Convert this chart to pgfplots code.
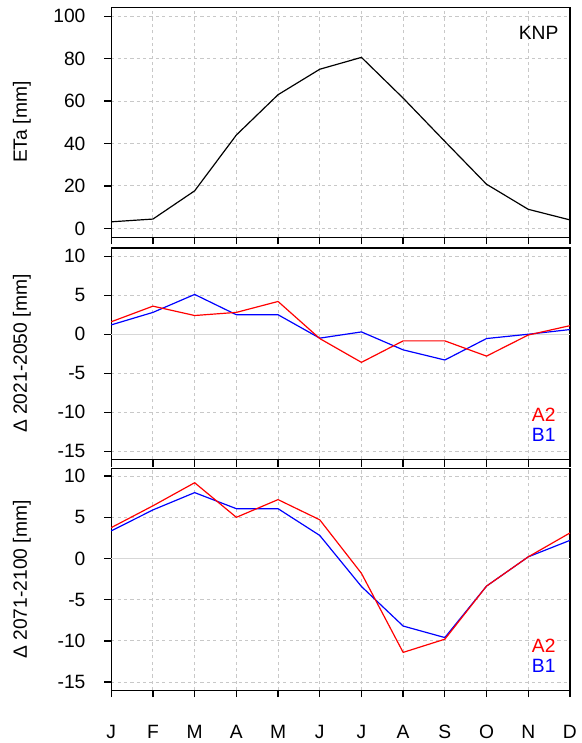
\documentclass[border=0pt]{standalone}
\usepackage{pgfplots}
\pgfplotsset{compat=1.18}
\usepackage{fontspec}
\setmainfont{Liberation Sans}
\definecolor{gridc}{RGB}{200,200,200}
\definecolor{zeroc}{RGB}{215,215,215}
\pgfplotsset{
  panel/.style={
    scale only axis,
    width=345.5pt,
    xmin=1, xmax=12,
    xtick={1,...,12},
    xticklabels={},
    xtick pos=bottom,
    ytick pos=left,
    tick align=outside,
    major tick length=5.25pt,
    axis line style={line width=1.1pt},
    every tick/.style={black, line width=1pt},
    grid=major,
    major grid style={gridc, line width=0.75pt, dash pattern=on 2.4pt off 2.4pt},
    /pgf/number format/assume math mode=true,
    yticklabel style={font=\fontsize{14.5}{16}\selectfont, anchor=east, inner sep=0pt, xshift=-14pt},
    clip=false,
  }
}
\begin{document}
\begin{tikzpicture}
\path (0,0) rectangle (434.25pt,557.25pt);
% top panel
\begin{axis}[panel, at={(83.8pt,378.5pt)}, anchor=south west, height=173.25pt,
  ymin=-4.2, ymax=104.2, ytick={0,20,40,60,80,100}]
\addplot[black, line width=0.9pt] coordinates {
(1,3.1) (2,4.4) (3,17.7) (4,44) (5,63) (6,75) (7,80.6) (8,61.4) (9,41) (10,20.8) (11,9) (12,4)};
\node[anchor=east, inner sep=0pt, font=\fontsize{14.5}{16}\selectfont, xshift=-8.5pt, yshift=-19.3pt] at (rel axis cs:1,1) {KNP};
\end{axis}
% middle panel
\begin{axis}[panel, at={(83.8pt,211pt)}, anchor=south west, height=159.5pt,
  ymin=-16.07, ymax=11.06, ytick={-15,-10,-5,0,5,10}]
\addplot[zeroc, line width=1.1pt] coordinates {(1,0) (12,0)};
\addplot[blue, line width=0.9pt] coordinates {
(1,1.2) (2,2.8) (3,5.1) (4,2.5) (5,2.5) (6,-0.5) (7,0.3) (8,-2.0) (9,-3.3) (10,-0.55) (11,0.0) (12,0.6)};
\addplot[red, line width=0.9pt] coordinates {
(1,1.6) (2,3.6) (3,2.4) (4,2.8) (5,4.2) (6,-0.55) (7,-3.6) (8,-0.85) (9,-0.85) (10,-2.8) (11,-0.1) (12,1.1)};
\node[anchor=east, inner sep=0pt, red, font=\fontsize{14.5}{16}\selectfont, xshift=-10.7pt, yshift=33.5pt] at (rel axis cs:1,0) {A2};
\node[anchor=east, inner sep=0pt, blue, font=\fontsize{14.5}{16}\selectfont, xshift=-10.7pt, yshift=18.5pt] at (rel axis cs:1,0) {B1};
\end{axis}
% bottom panel
\begin{axis}[panel, at={(83.8pt,37.3pt)}, anchor=south west, height=167pt,
  ymin=-16.0, ymax=10.92, ytick={-15,-10,-5,0,5,10},
  xticklabels={J,F,M,A,M,J,J,A,S,O,N,D},
  xticklabel style={font=\fontsize{14.5}{16}\selectfont, anchor=center, yshift=-26pt}]
\addplot[zeroc, line width=1.1pt] coordinates {(1,0) (12,0)};
\addplot[blue, line width=0.9pt] coordinates {
(1,3.35) (2,5.9) (3,8.0) (4,6.05) (5,6.05) (6,2.8) (7,-3.4) (8,-8.2) (9,-9.6) (10,-3.35) (11,0.2) (12,2.2)};
\addplot[red, line width=0.9pt] coordinates {
(1,3.75) (2,6.4) (3,9.2) (4,5.0) (5,7.15) (6,4.7) (7,-1.8) (8,-11.4) (9,-9.8) (10,-3.35) (11,0.2) (12,3.1)};
\node[anchor=east, inner sep=0pt, red, font=\fontsize{14.5}{16}\selectfont, xshift=-10.7pt, yshift=33.2pt] at (rel axis cs:1,0) {A2};
\node[anchor=east, inner sep=0pt, blue, font=\fontsize{14.5}{16}\selectfont, xshift=-10.7pt, yshift=18.2pt] at (rel axis cs:1,0) {B1};
\end{axis}
% y labels
\node[rotate=90, font=\fontsize{14.5}{16}\selectfont] at (16.5pt,465.2pt) {ETa [mm]};
\node[rotate=90, font=\fontsize{14.5}{16}\selectfont] at (16.5pt,290.8pt) {Δ 2021-2050 [mm]};
\node[rotate=90, font=\fontsize{14.5}{16}\selectfont] at (16.5pt,120.75pt) {Δ 2071-2100 [mm]};
\end{tikzpicture}
\end{document}
